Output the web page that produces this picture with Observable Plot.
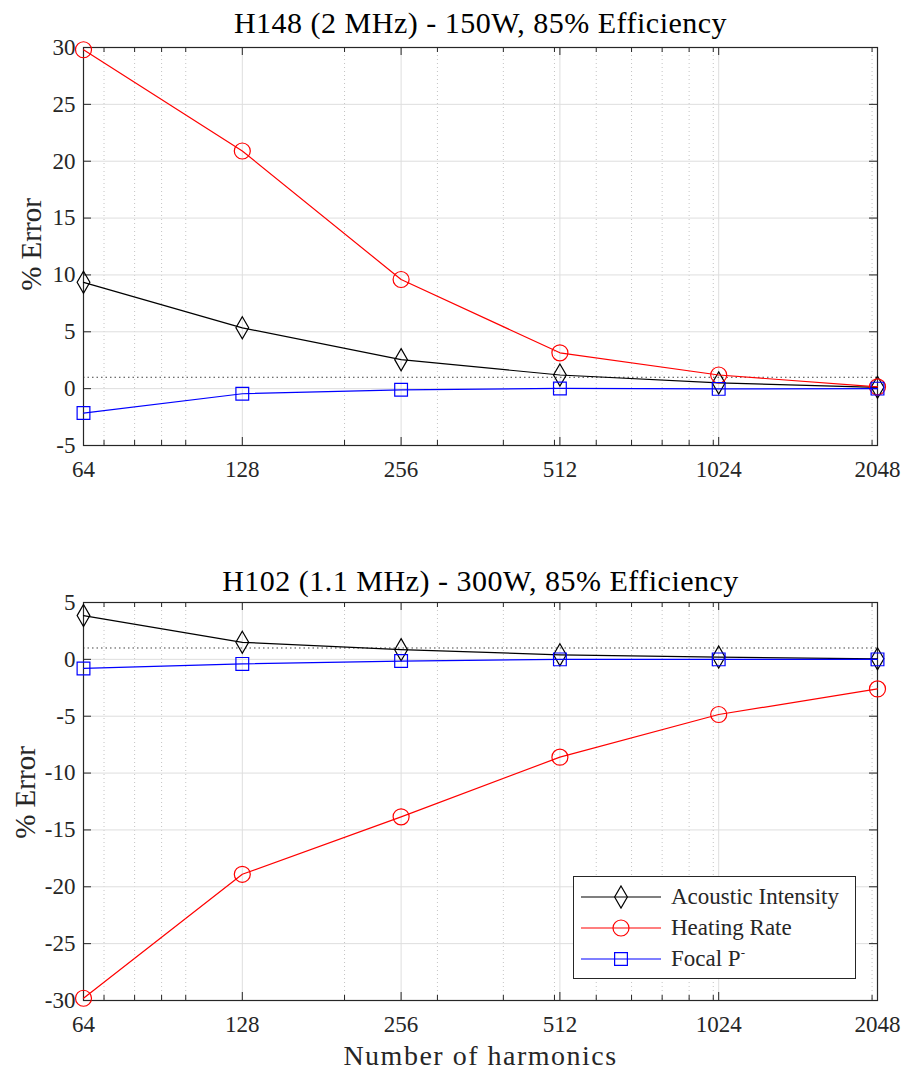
<!DOCTYPE html>
<html><head><meta charset="utf-8">
<script src="https://cdn.jsdelivr.net/npm/d3@7"></script>
<script src="https://cdn.jsdelivr.net/npm/@observablehq/plot@0.6"></script>
<style>
body{margin:0;background:#fff;font-family:"Liberation Serif",serif;}
#wrap{position:relative;width:904px;height:1072px;overflow:hidden;}
#wrap svg{display:block;}
#legend{position:absolute;left:573px;top:876px;width:283px;height:103px;border:1px solid #262626;box-sizing:border-box;background:#fff;padding-top:4px;}
#legend .row{display:flex;align-items:center;height:31px;}
#legend .row svg{margin-left:7px;}
#legend .lab{margin-left:10px;font-size:23px;color:#262626;white-space:nowrap;}
#legend sup{font-size:13px;vertical-align:9px;line-height:0;}
</style></head>
<body><div id="wrap"></div>
<script>
// ---- data ----
const harmonics = [64, 128, 256, 512, 1024, 2048];
const topIntensity = [9.35, 5.35, 2.55, 1.2, 0.5, 0.12];
const topHeating   = [29.8, 20.9, 9.6, 3.15, 1.2, 0.15];
const topFocalP    = [-2.15, -0.45, -0.1, 0.02, -0.02, 0.0];
const botIntensity = [3.85, 1.5, 0.85, 0.4, 0.2, 0.05];
const botHeating   = [-29.8, -18.9, -13.85, -8.6, -4.85, -2.6];
const botFocalP    = [-0.8, -0.4, -0.15, 0.0, 0.0, 0.0];
const xTicks = [64, 128, 256, 512, 1024, 2048];
const xMinor = [70, 80, 90, 100, 200, 300, 400, 500, 600, 700, 800, 900, 1000, 2000];
const topYTicks = [-5, 0, 5, 10, 15, 20, 25, 30];
const botYTicks = [-30, -25, -20, -15, -10, -5, 0, 5];
const threshold = [1];
const seriesNames = ["Acoustic Intensity", "Heating Rate", "Focal P"];
const topTitle = "H148 (2 MHz) - 150W, 85% Efficiency";
const botTitle = "H102 (1.1 MHz) - 300W, 85% Efficiency";
const yLabel = "% Error";
const xLabel = "Number of harmonics";

// ---- styles ----
const styles = [
  {color: "#000000", symbol: "diamond", r: 6.7},
  {color: "#ff0000", symbol: "circle", r: 8},
  {color: "#0000ff", symbol: "square", r: 7.2}
];
const W = 904, ML = 83, MR = 27;
const TXT = "#262626";
const FONT = "Liberation Serif, serif";

function panel({title, yDomain, yTicks, series, height, marginTop, marginBottom, titleDy, ylDx, ylDy, withXLabel}) {
  const fw = W - ML - MR, fh = height - marginTop - marginBottom;
  const marks = [
    Plot.ruleX(xMinor, {stroke: "#c4c4c4", strokeDasharray: "1,3", strokeWidth: 1}),
    Plot.ruleX(xTicks, {stroke: "#dedede", strokeWidth: 1}),
    Plot.ruleY(yTicks, {stroke: "#dedede", strokeWidth: 1}),
    Plot.ruleY(threshold, {stroke: "#444", strokeDasharray: "1.5,3", strokeWidth: 1}),
    Plot.ruleX(xTicks, {stroke: TXT, insetTop: fh - 8}),
    Plot.ruleX(xTicks, {stroke: TXT, insetBottom: fh - 8}),
    Plot.ruleX(xMinor, {stroke: TXT, insetTop: fh - 5}),
    Plot.ruleX(xMinor, {stroke: TXT, insetBottom: fh - 5}),
    Plot.ruleY(yTicks, {stroke: TXT, insetRight: fw - 8}),
    Plot.ruleY(yTicks, {stroke: TXT, insetLeft: fw - 8}),
    Plot.frame({stroke: TXT, strokeWidth: 1.2}),
    Plot.axisX({ticks: xTicks, tickFormat: d => String(d), tickSize: 0, tickPadding: 15, label: null, fontSize: 23, fontFamily: FONT, fill: TXT}),
    Plot.axisY({ticks: yTicks, tickFormat: d => String(d), tickSize: 0, tickPadding: 8, label: null, fontSize: 23, fontFamily: FONT, fill: TXT}),
  ];
  series.forEach((vals, k) => {
    const st = styles[k];
    const data = vals.map((v, i) => ({x: harmonics[i], y: v}));
    marks.push(Plot.line(data, {x: "x", y: "y", stroke: st.color, strokeWidth: 1.2}));
    marks.push(Plot.dot(data, {x: "x", y: "y", symbol: st.symbol, r: st.r, stroke: st.color, fill: "none", strokeWidth: 1.2}));
  });
  marks.push(Plot.text([title], {frameAnchor: "top", textAnchor: "middle", lineAnchor: "middle", dy: titleDy, fontSize: 30, fontFamily: FONT, fill: "#000"}));
  marks.push(Plot.text([yLabel], {frameAnchor: "left", textAnchor: "middle", lineAnchor: "middle", rotate: -90, dx: ylDx, dy: ylDy, fontSize: 29, fontFamily: FONT, fill: TXT}));
  if (withXLabel) marks.push(Plot.text([xLabel], {frameAnchor: "bottom", textAnchor: "middle", lineAnchor: "middle", dy: 56, fontSize: 28, fontFamily: FONT, fill: TXT}));
  const svg = Plot.plot({
    width: W, height, marginLeft: ML, marginRight: MR, marginTop, marginBottom,
    style: {fontFamily: FONT, background: "#fff", color: TXT},
    x: {type: "log", domain: [64, 2048], axis: null},
    y: {domain: yDomain, axis: null},
    marks
  });
  d3.select(svg).selectAll("text").each(function() {
    const t = this.textContent;
    if (t === title) this.setAttribute("letter-spacing", "0.5");
    if (t === xLabel) this.setAttribute("letter-spacing", "1.5");
  });
  return svg;
}

const wrap = document.getElementById("wrap");
wrap.appendChild(panel({title: topTitle, yDomain: [-5, 30], yTicks: topYTicks,
  series: [topIntensity, topHeating, topFocalP], height: 520, marginTop: 47, marginBottom: 75,
  titleDy: -24, ylDx: -52, ylDy: -2, withXLabel: false}));
wrap.appendChild(panel({title: botTitle, yDomain: [-30, 5], yTicks: botYTicks,
  series: [botIntensity, botHeating, botFocalP], height: 552, marginTop: 82, marginBottom: 72,
  titleDy: -21, ylDx: -58, ylDy: -9, withXLabel: true}));

// ---- legend ----
const legend = document.createElement("div");
legend.id = "legend";
seriesNames.forEach((name, k) => {
  const st = styles[k];
  const row = document.createElement("div");
  row.className = "row";
  const sym = {diamond: d3.symbolDiamond, circle: d3.symbolCircle, square: d3.symbolSquare}[st.symbol];
  const s = d3.create("svg").attr("width", 80).attr("height", 24);
  s.append("line").attr("x1", 0).attr("x2", 80).attr("y1", 12).attr("y2", 12).attr("stroke", st.color).attr("stroke-width", 1.2);
  s.append("path").attr("d", d3.symbol(sym, Math.PI * st.r * st.r)()).attr("transform", "translate(40,12)")
    .attr("fill", "none").attr("stroke", st.color).attr("stroke-width", 1.2);
  row.appendChild(s.node());
  const lab = document.createElement("span");
  lab.className = "lab";
  lab.textContent = name;
  if (k === 2) { const sup = document.createElement("sup"); sup.textContent = "-"; lab.appendChild(sup); }
  row.appendChild(lab);
  legend.appendChild(row);
});
wrap.appendChild(legend);
</script>
</body></html>
